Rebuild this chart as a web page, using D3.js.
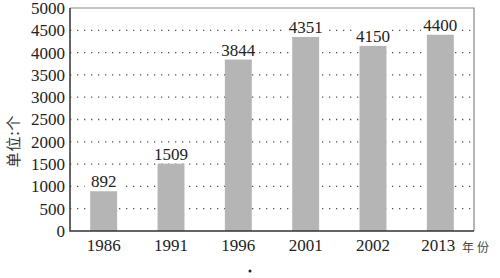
<!DOCTYPE html>
<html><head><meta charset="utf-8">
<script src="https://cdn.jsdelivr.net/npm/d3@7"></script>
<style>body{margin:0;background:#fff}svg{display:block}</style>
</head><body>
<script>
const categories = ["1986","1991","1996","2001","2002","2013"];
const values = [892,1509,3844,4351,4150,4400];
const yTicks = [0,500,1000,1500,2000,2500,3000,3500,4000,4500,5000];

const W=500,H=278, L=70, R=474, T=8, B=231;
const svg=d3.select("body").append("svg").attr("width",W).attr("height",H);
const x=d3.scaleBand().domain(categories).range([L,R]).paddingInner(0.6).paddingOuter(0.3);
const y=d3.scaleLinear().domain([0,5000]).range([B,T]);
const serif="'Liberation Serif','Times New Roman',serif";

// grid
svg.append("g").selectAll("line").data(yTicks.filter(d=>d>0&&d<5000)).join("line")
  .attr("x1",L).attr("x2",R).attr("y1",d=>y(d)).attr("y2",d=>y(d))
  .attr("stroke","#555").attr("stroke-width",1.3).attr("stroke-dasharray","1.3 5.7");

// bars
svg.append("g").selectAll("rect").data(values).join("rect")
  .attr("x",(d,i)=>x(categories[i])).attr("width",x.bandwidth())
  .attr("y",d=>y(d)).attr("height",d=>B-y(d)).attr("fill","#b5b5b5");

// value labels with white background
const lab=svg.append("g").selectAll("g").data(values).join("g");
lab.append("rect").attr("x",(d,i)=>x(categories[i])+x.bandwidth()/2-19).attr("width",38)
  .attr("y",d=>y(d)-17).attr("height",14).attr("fill","#fff");
lab.append("text").attr("x",(d,i)=>x(categories[i])+x.bandwidth()/2).attr("y",d=>y(d)-4)
  .attr("text-anchor","middle").attr("font-family",serif).attr("font-size",17).attr("fill","#222")
  .text(d=>d);

// frame
svg.append("path").attr("d",`M${L},${T}H${R}V${B}`).attr("fill","none").attr("stroke","#888").attr("stroke-width",1.2);
svg.append("path").attr("d",`M${L},${T}V${B}H${R}`).attr("fill","none").attr("stroke","#333").attr("stroke-width",1.5);

// y axis labels
const ya=svg.append("g").attr("transform",`translate(${L},0)`)
  .call(d3.axisLeft(y).tickValues(yTicks).tickSize(0).tickPadding(5).tickFormat(d3.format("d")));
ya.select(".domain").remove();
ya.selectAll("text").attr("font-family",serif).attr("font-size",17).attr("fill","#222");

// x axis labels
const xa=svg.append("g").attr("transform",`translate(0,${B})`)
  .call(d3.axisBottom(x).tickSize(0).tickPadding(8));
xa.select(".domain").remove();
xa.selectAll("text").attr("font-family",serif).attr("font-size",17).attr("fill","#222");
xa.selectAll(".tick").filter(d=>d==="2013").select("text").attr("dx",-2);

svg.append("text").attr("x",462).attr("y",252).attr("font-family","'Noto Sans CJK SC'")
  .attr("font-size",12).attr("letter-spacing",3).attr("fill","#444").text("年份");
svg.append("text").attr("transform","translate(19,141) rotate(-90)").attr("text-anchor","middle")
  .attr("font-family","'Noto Sans CJK SC'").attr("font-size",15).attr("letter-spacing",1).attr("fill","#333").text("单位:个");
svg.append("circle").attr("cx",250).attr("cy",271).attr("r",1.5).attr("fill","#222");
</script>
</body></html>
